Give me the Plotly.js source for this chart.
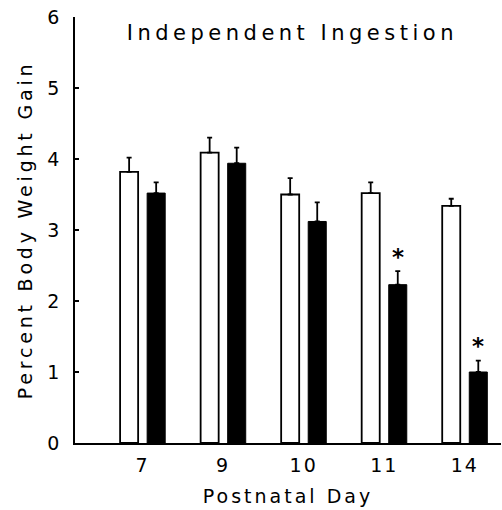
<!DOCTYPE html>
<html>
<head>
<meta charset="utf-8">
<script src="https://cdn.plot.ly/plotly-3.0.1.min.js"></script>
<style>
html,body{margin:0;padding:0;background:#fff;}
#chart{width:502px;height:510px;}
.main-svg .xtick text, .main-svg .ytick text{letter-spacing:2px;}
.main-svg text.ytitle{letter-spacing:3.8px;}
.main-svg text.xtitle{letter-spacing:3px;}
.main-svg .annotation[data-index="0"] .annotation-text{letter-spacing:4.5px;}
</style>
</head>
<body>
<div id="chart"></div>
<script>
const days = ["7", "9", "10", "11", "14"];
const controlMean = [3.82, 4.09, 3.50, 3.52, 3.34];
const controlSEM  = [0.20, 0.21, 0.23, 0.15, 0.10];
const treatedMean = [3.52, 3.94, 3.12, 2.23, 1.00];
const treatedSEM  = [0.15, 0.22, 0.27, 0.19, 0.16];
const significant = [false, false, false, true, true];

const xIdx = days.map((d, i) => i);
const barW = 0.224;

const control = {
  type: 'bar', x: xIdx, y: controlMean,
  width: barW, offset: -0.28,
  marker: {color: '#ffffff', line: {color: '#000', width: 1.8}},
  error_y: {type: 'data', array: controlSEM, arrayminus: controlSEM.map(() => 0), symmetric: false,
            color: '#000', thickness: 1.8, width: 2.5},
  showlegend: false, hoverinfo: 'none'
};
const treated = {
  type: 'bar', x: xIdx, y: treatedMean,
  width: barW, offset: 0.056,
  marker: {color: '#000000', line: {color: '#000', width: 1}},
  error_y: {type: 'data', array: treatedSEM, arrayminus: treatedSEM.map(() => 0), symmetric: false,
            color: '#000', thickness: 1.8, width: 2.5},
  showlegend: false, hoverinfo: 'none'
};

const annotations = [{
  text: 'Independent Ingestion', xref: 'paper', yref: 'paper', x: 0.51, y: 0.962,
  xanchor: 'center', yanchor: 'middle', showarrow: false,
  font: {family: 'DejaVu Sans', size: 21, color: '#000'}
}];
significant.forEach((s, i) => {
  if (s) annotations.push({
    text: '<b>*</b>', x: i + 0.168, y: treatedMean[i] + treatedSEM[i] + 0.2,
    xref: 'x', yref: 'y', showarrow: false, yanchor: 'middle',
    font: {family: 'DejaVu Sans', size: 23, color: '#000'}
  });
});

const layout = {
  width: 502, height: 510,
  margin: {l: 75, r: 1, t: 17, b: 67},
  paper_bgcolor: '#fff', plot_bgcolor: '#fff',
  font: {family: 'DejaVu Sans', color: '#000'},
  xaxis: {
    range: [-0.84, 4.45], tickvals: xIdx, ticktext: days,
    showline: true, linecolor: '#000', linewidth: 1.8,
    ticks: '', showgrid: false, zeroline: false,
    tickfont: {size: 19}, ticklabelstandoff: 4,
    title: {text: 'Postnatal Day', font: {size: 19}, standoff: 15}
  },
  yaxis: {
    range: [0, 6], tickvals: [0, 1, 2, 3, 4, 5, 6],
    showline: true, linecolor: '#000', linewidth: 1.8,
    ticks: 'inside', ticklen: 4, tickwidth: 1.5, tickcolor: '#000',
    showgrid: false, zeroline: false,
    tickfont: {size: 19}, ticklabelstandoff: 8,
    title: {text: 'Percent Body Weight Gain', font: {size: 19}, standoff: 12}
  },
  annotations: annotations
};

Plotly.newPlot('chart', [control, treated], layout, {displayModeBar: false, staticPlot: true});
</script>
</body>
</html>
